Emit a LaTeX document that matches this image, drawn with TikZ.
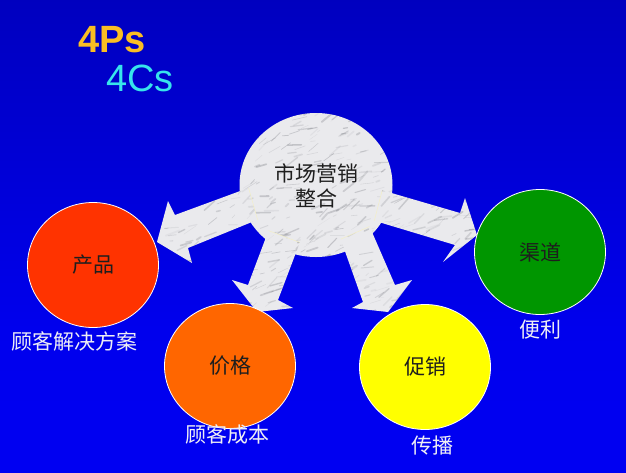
\documentclass[tikz,border=0pt]{standalone}
\usepackage{fontspec}
\setmainfont{Liberation Sans}
\newfontfamily\cjk{Noto Sans CJK SC}
\usetikzlibrary{shapes.geometric}
\definecolor{titleP}{RGB}{250,190,35}
\definecolor{titleC}{RGB}{55,228,235}
\definecolor{redc}{RGB}{255,51,0}
\definecolor{orangec}{RGB}{255,102,0}
\definecolor{yellowc}{RGB}{255,255,0}
\definecolor{greenc}{RGB}{0,150,0}
\definecolor{marblebase}{RGB}{234,234,237}
\definecolor{veincol}{RGB}{110,112,120}
\definecolor{seamcol}{RGB}{245,240,190}
\definecolor{intext}{RGB}{30,30,30}
\definecolor{labtext}{RGB}{238,238,245}
\pgfdeclareverticalshading{bgshade}{100bp}{rgb(0bp)=(0,0,0.98); rgb(40bp)=(0,0,0.93); rgb(75bp)=(0,0,0.75); rgb(100bp)=(0,0,0.52)}
\newcommand\marblefill[4]{%
  \fill[marblebase] (#1,#2) rectangle (#3,#4);
  \pgfmathtruncatemacro\nveins{((#3-#1)/110)*(#4-#2)}%
  \foreach \k in {1,...,\nveins}{%
    \pgfmathsetmacro\vx{#1+rnd*(#3-#1)}%
    \pgfmathsetmacro\vy{#2+rnd*(#4-#2)}%
    \pgfmathsetmacro\vl{3+rnd*12}%
    \pgfmathsetmacro\va{-50+rnd*50}%
    \pgfmathsetmacro\vw{0.3+rnd*1.6}%
    \pgfmathsetmacro\vo{0.06+rnd*0.26}%
    \draw[line width=\vw pt, draw=veincol, opacity=\vo, line cap=round] (\vx,\vy) -- ++(\va:\vl);
  }%
}
\tikzset{
  outer/.style={ellipse, draw=white, line width=0.8pt, minimum width=131pt, minimum height=125pt, inner sep=0pt, text=intext, font=\cjk\fontsize{21}{25}\selectfont},
  lab/.style={text=labtext, inner sep=0pt, font=\cjk\fontsize{21}{25}\selectfont},
  seam/.style={draw=seamcol, line width=0.5pt, opacity=0.8}
}
\begin{document}
\begin{tikzpicture}[x=1pt,y=-1pt]
\useasboundingbox (0,0) rectangle (626,472);
\fill[shading=bgshade] (0,0) rectangle (626,472);
\pgfmathsetseed{4217}
% central marble disc
\begin{scope}
  \clip (316,185) ellipse [x radius=76.5pt, y radius=72pt];
  \marblefill{238}{111}{395}{259}
\end{scope}
% left arrow
\begin{scope}
  \clip (248.6,187.9) -- (175,215) -- (168,201) -- (157,242) -- (192,263) -- (188,248) -- (257.6,219.7) -- cycle;
  \marblefill{155}{186}{259}{265}
\end{scope}
\draw[seam] (248.6,187.9) -- (257.6,219.7);
% right arrow
\begin{scope}
  \clip (382.2,190.3) -- (460,213) -- (465,198) -- (477,235) -- (443,262) -- (455,245) -- (374.3,220.7) -- cycle;
  \marblefill{372}{188}{479}{264}
\end{scope}
\draw[seam] (382.2,190.3) -- (374.3,220.7);
% lower-left arrow
\begin{scope}
  \clip (268.5,230.6) -- (248,285) -- (232,280) -- (257,312) -- (293,308) -- (278,300) -- (299.8,242.5) -- cycle;
  \marblefill{230}{228}{302}{314}
\end{scope}
\draw[seam] (268.5,230.6) -- (299.8,242.5);
% lower-right arrow
\begin{scope}
  \clip (340.7,239.2) -- (363,302) -- (352,308) -- (388,312) -- (412,280) -- (395,285) -- (369.6,226.5) -- cycle;
  \marblefill{338}{224}{414}{314}
\end{scope}
\draw[seam] (340.7,239.2) -- (369.6,226.5);
% central text node
\node[ellipse, minimum width=153pt, minimum height=144pt, inner sep=0pt, align=center, text=intext, font=\cjk\fontsize{21}{25}\selectfont] (mkt) at (316,186) {市场营销\\整合};
% outer circles
\node[outer, fill=redc] (prod) at (93,265) {产品};
\node[outer, fill=orangec] (price) at (230,366) {价格};
\node[outer, fill=yellowc] (promo) at (425,367) {促销};
\node[outer, fill=greenc] (place) at (540,252) {渠道};
% labels
\node[lab] (l1) at (75,341) {顾客解决方案};
\node[lab] (l2) at (227,434) {顾客成本};
\node[lab] (l3) at (432,446) {传播};
\node[lab] (l4) at (540,330) {便利};
% titles
\node[text=titleP, inner sep=0pt, font=\bfseries\fontsize{38}{40}\selectfont] (t4p) at (112,40) {4Ps};
\node[text=titleC, inner sep=0pt, font=\fontsize{38}{40}\selectfont] (t4c) at (140,78) {4Cs};
\end{tikzpicture}
\end{document}
